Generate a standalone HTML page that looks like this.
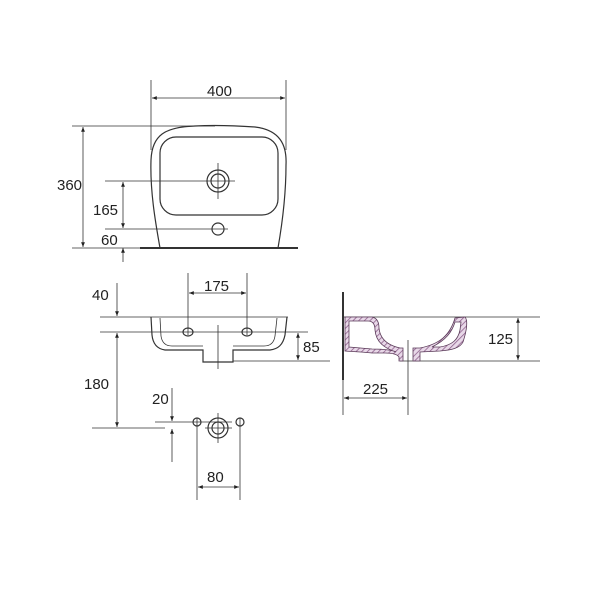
<!DOCTYPE html>
<html><head><meta charset="utf-8"><style>body{margin:0;background:#fff}svg{display:block}text{font-family:"Liberation Sans",sans-serif;font-size:15px;fill:#222}</style></head><body>
<svg width="600" height="600" viewBox="0 0 600 600">
<defs><marker id="a" viewBox="0 0 10 10" refX="10" refY="5" markerWidth="8" markerHeight="6" orient="auto-start-reverse"><path d="M0,1L10,5L0,9z" fill="#222"/></marker>
<pattern id="h" width="4" height="4" patternUnits="userSpaceOnUse" patternTransform="rotate(45)"><rect width="4" height="4" fill="#e8d8e8"/><line x1="0" y1="0" x2="0" y2="4" stroke="#8a5a88" stroke-width="1.5"/></pattern></defs>
<g stroke="#333" stroke-width="0.8" fill="none">
<line x1="151" y1="80" x2="151" y2="150"/><line x1="286" y1="80" x2="286" y2="150"/>
<line x1="152" y1="98" x2="285" y2="98" marker-start="url(#a)" marker-end="url(#a)"/>
<line x1="72" y1="126" x2="215" y2="126"/>
<line x1="83" y1="127" x2="83" y2="247" marker-start="url(#a)" marker-end="url(#a)"/>
<path d="M160,248 C155,220 150,190 151,160 C152,135 165,127 195,126 C215,125 240,126 255,127 C280,130 287,145 286,165 C286,195 282,225 278,248" stroke-width="1.2"/>
<rect x="160" y="137" width="118" height="78" rx="16" stroke-width="1.2"/>
<circle cx="218" cy="181" r="11" stroke-width="1.2"/><circle cx="218" cy="181" r="7" stroke-width="1.2"/>
<line x1="105" y1="181" x2="235" y2="181"/><line x1="218" y1="163" x2="218" y2="199"/>
<line x1="123" y1="182" x2="123" y2="228" marker-start="url(#a)" marker-end="url(#a)"/>
<line x1="123" y1="248" x2="123" y2="262" marker-start="url(#a)"/>
<line x1="105" y1="229" x2="228" y2="229"/><circle cx="218" cy="229" r="6" stroke-width="1.2"/>
<line x1="72" y1="248" x2="140" y2="248"/><line x1="140" y1="248" x2="298" y2="248" stroke-width="2"/>
<line x1="188" y1="273" x2="188" y2="335"/><line x1="247" y1="273" x2="247" y2="335"/>
<line x1="189" y1="293" x2="246" y2="293" marker-start="url(#a)" marker-end="url(#a)"/>
<line x1="100" y1="317" x2="288" y2="317"/><line x1="100" y1="332" x2="308" y2="332"/>
<line x1="117" y1="283" x2="117" y2="316" marker-end="url(#a)"/>
<line x1="117" y1="333" x2="117" y2="427" marker-start="url(#a)" marker-end="url(#a)"/>
<path d="M151,317 L152,335 C153,345 158,349 165,350 L203,350 L203,362 L233,362 L233,350 L270,350 C278,349 283,345 285,335 L287,317" stroke-width="1.2"/>
<path d="M160,318 L161,336 C162,343 166,346 172,346 L203,346 M233,346 L264,346 C270,346 274,343 275,336 L277,318"/>
<ellipse cx="188" cy="332" rx="5" ry="4" stroke-width="1.2"/><ellipse cx="247" cy="332" rx="5" ry="4" stroke-width="1.2"/>
<line x1="218" y1="325" x2="218" y2="369"/>
<line x1="233" y1="361" x2="330" y2="361"/>
<line x1="298" y1="333" x2="298" y2="360" marker-start="url(#a)" marker-end="url(#a)"/>
<line x1="92" y1="428" x2="165" y2="428"/><line x1="155" y1="422" x2="232" y2="422"/>
<line x1="172" y1="388" x2="172" y2="421" marker-end="url(#a)"/>
<line x1="172" y1="462" x2="172" y2="429" marker-end="url(#a)"/>
<circle cx="197" cy="422" r="4" stroke-width="1.2"/><circle cx="240" cy="422" r="4" stroke-width="1.2"/>
<circle cx="218" cy="428" r="10" stroke-width="1.2"/><circle cx="218" cy="428" r="6" stroke-width="1.2"/>
<line x1="218" y1="413" x2="218" y2="443"/><line x1="205" y1="428" x2="232" y2="428"/>
<line x1="197" y1="418" x2="197" y2="500"/><line x1="240" y1="418" x2="240" y2="500"/>
<line x1="198" y1="487" x2="239" y2="487" marker-start="url(#a)" marker-end="url(#a)"/>
<line x1="343" y1="292" x2="343" y2="380" stroke-width="2"/>
<line x1="343" y1="317" x2="540" y2="317"/><line x1="400" y1="361" x2="540" y2="361"/>
<line x1="518" y1="318" x2="518" y2="360" marker-start="url(#a)" marker-end="url(#a)"/>
<line x1="408" y1="340" x2="408" y2="415"/>
<line x1="343" y1="380" x2="343" y2="415"/>
<line x1="344" y1="398" x2="407" y2="398" marker-start="url(#a)" marker-end="url(#a)"/>
</g>
<g stroke="#5a3a58" stroke-width="0.8" fill="url(#h)">
<path d="M345,317 L372,317 C377,318 379,322 379,328 C380,338 386,345 400,348 L403,348 L403,361 L399,361 L399,357 C397,354 392,353 385,353 L372,353 C365,352 358,352 345,351 Z M349,321 L349,347 L372,349 C382,349 393,350 396,352 C384,348 376,342 375,330 C375,323 372,321 368,321 Z"/>
<path d="M413,348 L420,348 C440,344 450,335 455,318 L465,317 C468,320 467,330 463,342 C460,348 452,350 440,351 L420,352 L420,361 L413,361 Z M455,322 C452,332 446,340 432,347 L440,347 C452,345 458,340 460,330 L461,322 Z"/>
</g>
<text x="207" y="96">400</text>
<text x="57" y="190">360</text>
<text x="93" y="215">165</text>
<text x="101" y="245">60</text>
<text x="204" y="291">175</text>
<text x="92" y="300">40</text>
<text x="303" y="352">85</text>
<text x="84" y="389">180</text>
<text x="152" y="404">20</text>
<text x="207" y="482">80</text>
<text x="488" y="344">125</text>
<text x="363" y="394">225</text>
</svg></body></html>
